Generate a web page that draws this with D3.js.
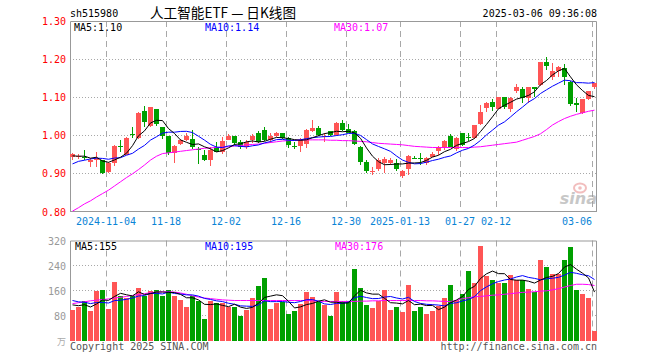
<!DOCTYPE html>
<html>
<head>
<meta charset="utf-8">
<script src="https://cdn.jsdelivr.net/npm/d3@7/dist/d3.min.js"></script>
<style>
    html, body { margin: 0; padding: 0; background: #ffffff; }
    svg { display: block; }
    text { font-family: "DejaVu Sans Mono", monospace; font-size: 10px; }
</style>
</head>
<body>
<svg id="chart" width="660" height="360"></svg>
<script>
const dates = [
    '2024-10-25', '2024-10-28', '2024-10-29', '2024-10-30', '2024-10-31',
    '2024-11-01', '2024-11-04', '2024-11-05', '2024-11-06', '2024-11-07', '2024-11-08',
    '2024-11-11', '2024-11-12', '2024-11-13', '2024-11-14', '2024-11-15',
    '2024-11-18', '2024-11-19', '2024-11-20', '2024-11-21', '2024-11-22',
    '2024-11-25', '2024-11-26', '2024-11-27', '2024-11-28', '2024-11-29',
    '2024-12-02', '2024-12-03', '2024-12-04', '2024-12-05', '2024-12-06',
    '2024-12-09', '2024-12-10', '2024-12-11', '2024-12-12', '2024-12-13',
    '2024-12-16', '2024-12-17', '2024-12-18', '2024-12-19', '2024-12-20',
    '2024-12-23', '2024-12-24', '2024-12-25', '2024-12-26', '2024-12-27',
    '2024-12-30', '2024-12-31', '2025-01-02', '2025-01-03',
    '2025-01-06', '2025-01-07', '2025-01-08', '2025-01-09', '2025-01-10',
    '2025-01-13', '2025-01-14', '2025-01-15', '2025-01-16', '2025-01-17',
    '2025-01-20', '2025-01-21', '2025-01-22', '2025-01-23', '2025-01-24',
    '2025-01-27', '2025-02-05', '2025-02-06', '2025-02-07',
    '2025-02-10', '2025-02-11', '2025-02-12', '2025-02-13', '2025-02-14',
    '2025-02-17', '2025-02-18', '2025-02-19', '2025-02-20', '2025-02-21',
    '2025-02-24', '2025-02-25', '2025-02-26', '2025-02-27', '2025-02-28',
    '2025-03-03', '2025-03-04', '2025-03-05', '2025-03-06'
];

const opens = [
    0.942, 0.944, 0.943, 0.931, 0.935, 0.935, 0.903, 0.928, 0.972, 0.948,
    1.004, 0.992, 1.065, 1.025, 1.069, 1.023, 0.997, 0.953, 0.977, 0.987,
    0.989, 0.963, 0.948, 0.934, 0.970, 0.957, 0.988, 0.997, 0.983, 0.970,
    0.988, 1.005, 1.014, 0.988, 0.997, 1.005, 0.992, 0.973, 0.972, 0.977,
    1.012, 1.018, 0.997, 1.010, 1.001, 1.032, 1.016, 1.010, 0.970, 0.931,
    0.904, 0.911, 0.928, 0.926, 0.928, 0.892, 0.911, 0.940, 0.940, 0.927,
    0.944, 0.960, 0.970, 0.998, 0.963, 1.005, 0.996, 0.992, 1.030, 1.071,
    1.088, 1.068, 1.100, 1.068, 1.115, 1.121, 1.097, 1.126, 1.132, 1.192,
    1.154, 1.170, 1.176, 1.141, 1.086, 1.058, 1.095, 1.126
];
const highs = [
    0.953, 0.950, 0.962, 0.940, 0.957, 0.936, 0.930, 0.975, 0.988, 0.995,
    1.021, 1.060, 1.078, 1.073, 1.069, 1.023, 0.997, 0.975, 0.990, 1.005,
    1.013, 0.969, 0.962, 0.968, 0.983, 0.996, 1.003, 0.998, 0.987, 0.988,
    1.004, 1.010, 1.021, 1.005, 1.008, 1.006, 0.995, 0.983, 0.992, 1.016,
    1.039, 1.025, 1.005, 1.011, 1.036, 1.040, 1.029, 1.013, 0.972, 0.935,
    0.918, 0.940, 0.942, 0.940, 0.937, 0.910, 0.948, 0.946, 0.954, 0.944,
    0.957, 0.972, 0.988, 1.004, 0.995, 1.006, 1.005, 1.028, 1.080, 1.088,
    1.095, 1.100, 1.100, 1.100, 1.135, 1.126, 1.128, 1.128, 1.193, 1.205,
    1.189, 1.182, 1.187, 1.143, 1.097, 1.095, 1.117, 1.136
];
const lows = [
    0.936, 0.938, 0.934, 0.918, 0.918, 0.899, 0.902, 0.920, 0.957, 0.947,
    0.992, 0.990, 1.023, 1.023, 1.025, 0.990, 0.948, 0.928, 0.975, 0.986,
    0.965, 0.925, 0.933, 0.920, 0.957, 0.952, 0.988, 0.975, 0.963, 0.964,
    0.981, 0.981, 0.986, 0.979, 0.995, 0.990, 0.966, 0.963, 0.957, 0.966,
    1.009, 0.997, 0.983, 0.998, 0.998, 1.010, 1.005, 0.974, 0.922, 0.902,
    0.895, 0.907, 0.900, 0.922, 0.907, 0.889, 0.896, 0.937, 0.922, 0.922,
    0.942, 0.948, 0.962, 0.969, 0.960, 0.972, 0.986, 0.989, 1.028, 1.062,
    1.065, 1.068, 1.068, 1.062, 1.112, 1.086, 1.084, 1.100, 1.129, 1.171,
    1.145, 1.152, 1.132, 1.077, 1.062, 1.056, 1.092, 1.121
];
const closes = [
    0.951, 0.946, 0.940, 0.934, 0.941, 0.902, 0.928, 0.972, 0.969, 0.994,
    1.001, 1.058, 1.036, 1.073, 1.029, 0.997, 0.953, 0.972, 0.988, 0.998,
    0.968, 0.961, 0.934, 0.962, 0.957, 0.985, 0.997, 0.979, 0.970, 0.983,
    0.997, 0.983, 0.988, 0.997, 1.007, 0.992, 0.975, 0.972, 0.988, 1.014,
    1.020, 1.001, 0.999, 1.001, 1.032, 1.014, 1.007, 0.977, 0.931, 0.905,
    0.906, 0.935, 0.937, 0.934, 0.911, 0.907, 0.946, 0.939, 0.939, 0.940,
    0.950, 0.970, 0.986, 0.970, 0.992, 0.975, 0.995, 1.027, 1.060, 1.086,
    1.075, 1.100, 1.073, 1.099, 1.128, 1.097, 1.126, 1.121, 1.192, 1.183,
    1.170, 1.180, 1.152, 1.082, 1.079, 1.095, 1.115, 1.136
];
// closes and volumes of the nine sessions before the first candle (estimated lead-in for MA5 / MA10)
const leadCloses = [0.880, 0.910, 0.900, 0.920, 0.910, 0.950, 0.940, 0.960, 0.929];
const leadVolumes = [150, 140, 135, 125, 160, 120, 110, 130, 112];

const ma30 = [
    0.801, 0.810, 0.820, 0.828, 0.838, 0.847, 0.856, 0.867, 0.878, 0.889,
    0.899, 0.910, 0.922, 0.935, 0.945, 0.952, 0.954, 0.956, 0.958, 0.960,
    0.962, 0.964, 0.966, 0.967, 0.968, 0.969, 0.970, 0.972, 0.973, 0.975,
    0.976, 0.977, 0.979, 0.981, 0.983, 0.985, 0.986, 0.987, 0.988, 0.988,
    0.988, 0.988, 0.988, 0.987, 0.987, 0.986, 0.986, 0.985, 0.984, 0.983,
    0.981, 0.979, 0.978, 0.977, 0.976, 0.975, 0.973, 0.971, 0.970, 0.969,
    0.968, 0.968, 0.968, 0.968, 0.968, 0.968, 0.968, 0.969, 0.970, 0.972,
    0.974, 0.976, 0.978, 0.980, 0.982, 0.987, 0.992, 0.997, 1.004, 1.015,
    1.027, 1.036, 1.044, 1.050, 1.055, 1.059, 1.063, 1.066
];

const volumes = [
    98, 107, 126, 93, 160, 162, 101, 188, 144, 137,
    143, 168, 143, 160, 162, 143, 162, 141, 130, 108,
    143, 128, 70, 126, 119, 119, 108, 108, 80, 98,
    136, 175, 200, 101, 119, 122, 86, 93, 118, 156,
    140, 122, 115, 80, 156, 125, 125, 229, 169, 114,
    105, 125, 162, 99, 108, 92, 179, 95, 108, 85,
    95, 111, 135, 178, 130, 150, 224, 185, 303, 205,
    194, 183, 184, 210, 194, 195, 166, 154, 258, 236,
    212, 212, 257, 298, 162, 148, 137, 30
];
const volMa30 = [
    118, 121, 124, 127, 129, 131, 133, 136, 138, 141,
    144, 147, 150, 153, 155, 156, 156, 155, 152, 148,
    143, 139, 136, 134, 132, 130, 129, 128, 128, 128,
    128, 128, 128, 128, 128, 128, 128, 128, 128, 128,
    127, 126, 125, 125, 125, 125, 125, 125, 126, 126,
    127, 127, 128, 128, 128, 128, 128, 128, 128, 127,
    127, 126, 125, 125, 128, 134, 137, 140, 141, 143,
    145, 146, 148, 150, 152, 154, 155, 156, 158, 159,
    162, 166, 171, 176, 180, 180, 179, 176
];

const tickDates = ['2024-11-04', '2024-11-18', '2024-12-02', '2024-12-16', '2024-12-30',
    '2025-01-13', '2025-01-27', '2025-02-12', '2025-03-06'];
const tickLabels = ['2024-11-04', '11-18', '12-02', '12-16', '12-30',
    '2025-01-13', '01-27', '02-12', '03-06'];
const priceTicks = [0.8, 0.9, 1.0, 1.1, 1.2, 1.3];
const volumeTicks = [80, 160, 240, 320];

const RED = '#ff5555';
const GREEN = '#00a000';
const GRID = '#a8a8a8';

const movingAverage = (values, lead, n) => {
    const all = lead.concat(values);
    return values.map((v, i) => d3.mean(all.slice(i + lead.length - n + 1, i + lead.length + 1)));
};
const ma5 = movingAverage(closes, leadCloses, 5);
const ma10 = movingAverage(closes, leadCloses, 10);
const volMa5 = movingAverage(volumes, leadVolumes, 5);
const volMa10 = movingAverage(volumes, leadVolumes, 10);

const svg = d3.select('#chart');
const left = 70;
const right = 598;

const x = d3.scaleBand().domain(dates).range([left, right]);
const y = d3.scaleLinear().domain([0.8, 1.3]).range([211.5, 21]);
const yv = d3.scaleLinear().domain([0, 320]).range([340.5, 240.5]);
const isUp = (i) => closes[i] >= opens[i];

// header
svg.append('text').attr('x', 70).attr('y', 17).attr('fill', '#000').text('sh515980');
svg.append('text').attr('x', 150).attr('y', 18)
    .attr('textLength', 146).attr('lengthAdjust', 'spacingAndGlyphs')
    .style('font-family', '"Noto Sans CJK SC", sans-serif').style('font-size', '14px')
    .attr('fill', '#000').text('人工智能ETF — 日K线图');
svg.append('text').attr('x', 597).attr('y', 17).attr('text-anchor', 'end')
    .attr('fill', '#000').text('2025-03-06 09:36:08');

const drawPanel = (top, bottom, hLines) => {
    const g = svg.append('g');
    g.selectAll('line.h').data(hLines).enter().append('line')
        .attr('x1', left).attr('x2', right - 1)
        .attr('y1', (d) => d).attr('y2', (d) => d)
        .attr('stroke', GRID).attr('stroke-dasharray', '1,2')
        .attr('shape-rendering', 'crispEdges');
    g.selectAll('line.v').data(tickDates).enter().append('line')
        .attr('x1', (d) => x(d) + 0.5).attr('x2', (d) => x(d) + 0.5)
        .attr('y1', top).attr('y2', bottom)
        .attr('stroke', GRID).attr('stroke-dasharray', '6,4');
    g.append('path')
        .attr('d', `M${left + 0.5},${bottom}V${top + 0.5}H${right - 1.5}V${bottom}`)
        .attr('fill', 'none').attr('stroke', '#999');
    return g;
};

// price panel
drawPanel(21, 211.5, [59.3, 97.3, 135.3, 173.3]);
svg.append('line').attr('x1', left).attr('x2', right - 1).attr('y1', 211.5).attr('y2', 211.5)
    .attr('stroke', '#999');

svg.selectAll('text.py').data(priceTicks).enter().append('text')
    .attr('x', 66).attr('y', (d) => y(d) + 4).attr('text-anchor', 'end')
    .attr('fill', '#ff0000').text((d) => d.toFixed(2));

svg.selectAll('text.xl').data(tickDates).enter().append('text')
    .attr('x', (d, i) => (i === tickDates.length - 1 ? x(d) : x(d)))
    .attr('y', 225)
    .attr('text-anchor', (d, i) => (i === tickDates.length - 1 ? 'end' : 'middle'))
    .attr('fill', '#0a84d6').text((d, i) => tickLabels[i]);

// sina watermark
const mark = svg.append('g').attr('opacity', 0.55);
mark.append('ellipse').attr('cx', 580).attr('cy', 188).attr('rx', 6).attr('ry', 4.5)
    .attr('fill', 'none').attr('stroke', '#e88a8a').attr('stroke-width', 2);
mark.append('circle').attr('cx', 580).attr('cy', 188).attr('r', 1.8).attr('fill', '#e88a8a');
mark.append('text').attr('x', 597).attr('y', 204).attr('text-anchor', 'end')
    .style('font-family', '"DejaVu Sans", sans-serif').style('font-size', '16px')
    .style('font-weight', 'bold').style('font-style', 'italic')
    .attr('fill', '#9a9a9a').text('sina');

const candles = svg.append('g').selectAll('g').data(dates).enter().append('g');
candles.append('rect')
    .attr('x', (d) => x(d) + 2).attr('width', 1)
    .attr('y', (d, i) => y(highs[i]))
    .attr('height', (d, i) => Math.max(1, y(lows[i]) - y(highs[i])))
    .attr('fill', (d, i) => (isUp(i) ? RED : GREEN))
    .attr('shape-rendering', 'crispEdges');
candles.append('rect')
    .attr('x', (d) => x(d)).attr('width', 5)
    .attr('y', (d, i) => y(Math.max(opens[i], closes[i])))
    .attr('height', (d, i) => Math.max(1, Math.abs(y(opens[i]) - y(closes[i]))))
    .attr('fill', (d, i) => (isUp(i) ? RED : GREEN))
    .attr('shape-rendering', 'crispEdges');

const priceLine = d3.line().x((d, i) => x(dates[i]) + 2.5).y((d) => y(d));
[[ma30, '#ff00ff'], [ma10, '#0000ff'], [ma5, '#000000']].forEach(([series, color]) => {
    svg.append('path').attr('d', priceLine(series))
        .attr('fill', 'none').attr('stroke', color).attr('stroke-width', 1);
});

svg.append('text').attr('x', 74).attr('y', 31).attr('fill', '#000')
    .text(`MA5:${ma5[ma5.length - 1].toFixed(2)}`);
svg.append('text').attr('x', 205).attr('y', 31).attr('fill', '#0000ff')
    .text(`MA10:${ma10[ma10.length - 1].toFixed(2)}`);
svg.append('text').attr('x', 334).attr('y', 31).attr('fill', '#ff00ff')
    .text(`MA30:${ma30[ma30.length - 1].toFixed(2)}`);

// volume panel
drawPanel(240.5, 340.5, [265.5, 290.5, 315.5]);
svg.selectAll('text.vy').data(volumeTicks).enter().append('text')
    .attr('x', 66).attr('y', (d) => yv(d) + 4).attr('text-anchor', 'end')
    .attr('fill', '#999').text((d) => d);
svg.append('text').attr('x', 66).attr('y', 345).attr('text-anchor', 'end')
    .style('font-family', '"Noto Sans CJK SC", sans-serif').style('font-size', '9px')
    .attr('fill', '#aaa').text('万');

svg.append('g').selectAll('rect').data(volumes).enter().append('rect')
    .attr('x', (d, i) => x(dates[i])).attr('width', 5)
    .attr('y', (d) => yv(d)).attr('height', (d) => yv(0) - yv(d))
    .attr('fill', (d, i) => (isUp(i) ? RED : GREEN))
    .attr('shape-rendering', 'crispEdges');

const volLine = d3.line().x((d, i) => x(dates[i]) + 2.5).y((d) => yv(d));
[[volMa30, '#ff00ff'], [volMa10, '#0000ff'], [volMa5, '#000000']].forEach(([series, color]) => {
    svg.append('path').attr('d', volLine(series))
        .attr('fill', 'none').attr('stroke', color).attr('stroke-width', 1);
});

svg.append('text').attr('x', 75).attr('y', 250).attr('fill', '#000')
    .text(`MA5:${Math.round(volMa5[volMa5.length - 1])}`);
svg.append('text').attr('x', 205).attr('y', 250).attr('fill', '#0000ff')
    .text(`MA10:${Math.round(volMa10[volMa10.length - 1])}`);
svg.append('text').attr('x', 335).attr('y', 250).attr('fill', '#ff00ff')
    .text(`MA30:${Math.round(volMa30[volMa30.length - 1])}`);

svg.append('text').attr('x', 70).attr('y', 350).attr('fill', '#555')
    .text('Copyright 2025 SINA.COM');
svg.append('text').attr('x', 597).attr('y', 350).attr('text-anchor', 'end').attr('fill', '#555')
    .text('http://finance.sina.com.cn');
</script>
</body>
</html>
